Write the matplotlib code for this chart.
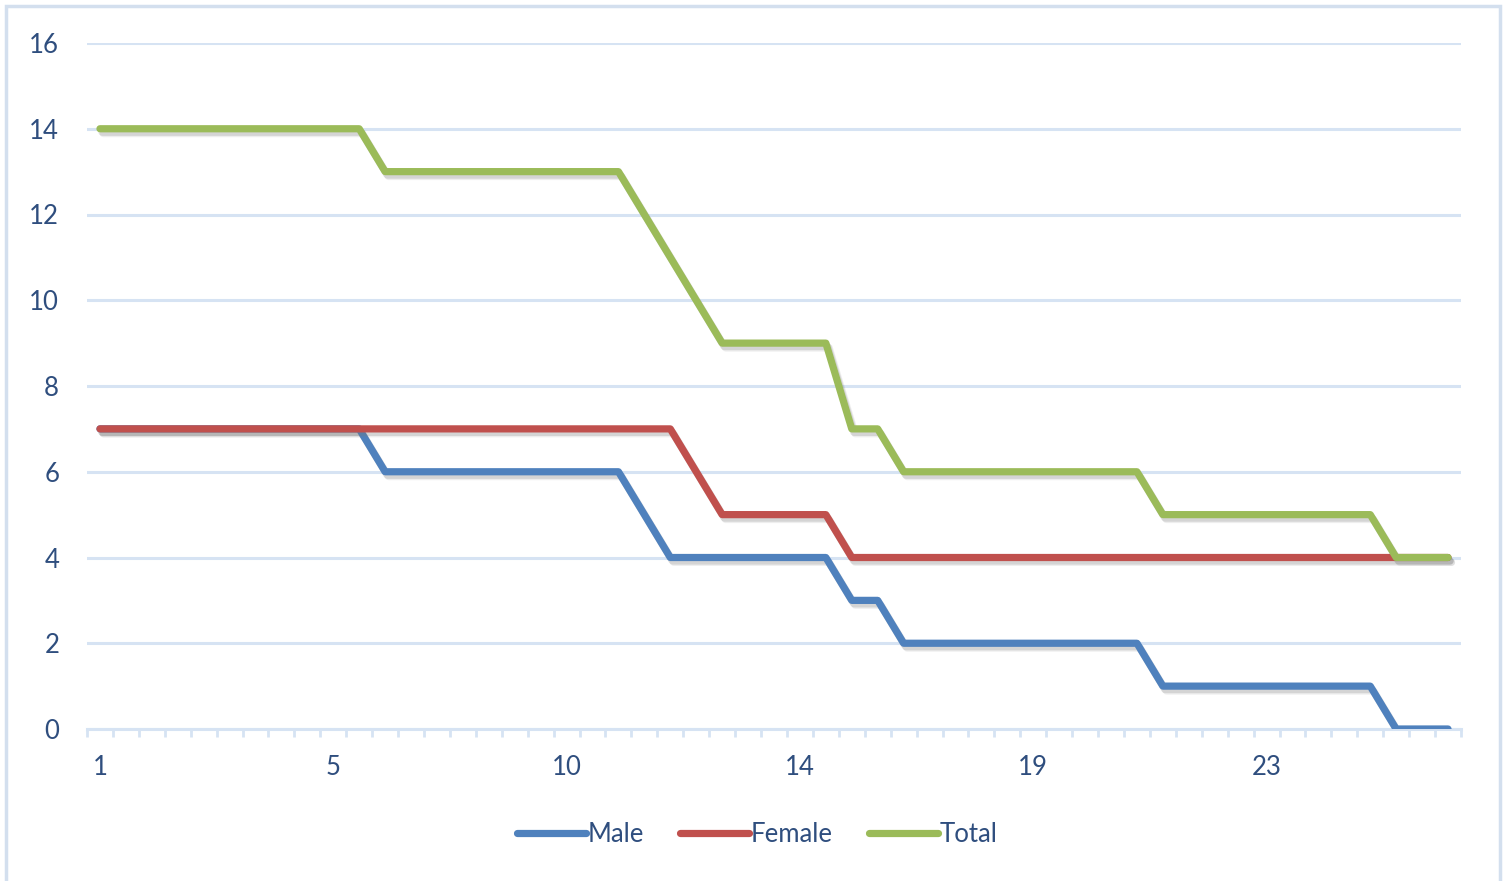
import numpy as np
import matplotlib.pyplot as plt
import matplotlib.patheffects as pe
from matplotlib.patches import Rectangle

plt.rcParams['font.family'] = ['Lato', 'DejaVu Sans']

# values per category (53 steps), labels shown every 9th category
male = [7]*11 + [6]*10 + [5, 4, 4] + [4]*5 + [3, 3] + [2]*10 + [1]*9 + [0]*3
female = [7]*23 + [6] + [5]*5 + [4]*24
total = [14]*11 + [13]*10 + [12, 11, 10] + [9]*5 + [7, 7] + [6]*10 + [5]*9 + [4]*3
tick_labels = ['1', '5', '10', '14', '19', '23']

names = ['Male', 'Female', 'Total']
colors = ['#4F81BD', '#C0504D', '#9BBB59']
text_col = '#2F4E7E'
grid_col = '#D6E3F3'
fs = 18.5

fig = plt.figure(figsize=(15.05, 8.81), dpi=100)
ax = fig.add_axes([87/1505, 1-729/881, (1461-87)/1505, (729-43)/881])

x = np.arange(len(total))
shadow = [pe.SimpleLineShadow(offset=(1.5, -2.5), shadow_color='#777777', alpha=0.22),
          pe.SimpleLineShadow(offset=(2.5, -3.5), shadow_color='#777777', alpha=0.12),
          pe.Normal()]
for ys, name, c in zip([male, female, total], names, colors):
    ax.plot(x, ys, color=c, lw=5.2, solid_capstyle='round', solid_joinstyle='round',
            label=name, path_effects=shadow, zorder=3)

ax.set_xlim(-0.5, len(total) - 0.5)
ax.set_ylim(0, 16)
ax.set_yticks(range(0, 17, 2))
ax.set_xticks(x[::9])
ax.set_xticklabels(tick_labels)
ax.set_xticks(np.arange(-0.5, len(total), 1), minor=True)

ax.grid(axis='y', color=grid_col, lw=2.2)
ax.set_axisbelow(True)
for s in ['top', 'right', 'left']:
    ax.spines[s].set_visible(False)
ax.spines['bottom'].set_color(grid_col)
ax.spines['bottom'].set_linewidth(2.2)

ax.tick_params(axis='y', length=0, pad=20, labelsize=fs, labelcolor=text_col)
ax.tick_params(axis='x', which='major', length=0, pad=19, labelsize=fs, labelcolor=text_col)
ax.tick_params(axis='x', which='minor', length=6, width=2, color=grid_col, direction='out')

leg = fig.legend(loc='center', bbox_to_anchor=(757/1505, 1-834/881), ncol=3, frameon=False,
                 fontsize=fs, handlelength=2.7, handletextpad=0.05, columnspacing=1.4)
for t in leg.get_texts():
    t.set_color(text_col)
for h in leg.get_lines():
    h.set_linewidth(5.2)
    h.set_solid_capstyle('round')
    h.set_path_effects([])

fig.patches.append(Rectangle((6/1505, -0.01), 1494/1505, 1-6/881 + 0.01, transform=fig.transFigure,
                             fill=False, edgecolor='#D3DFEE', lw=2.5))

fig.savefig('out.png', dpi=100)
